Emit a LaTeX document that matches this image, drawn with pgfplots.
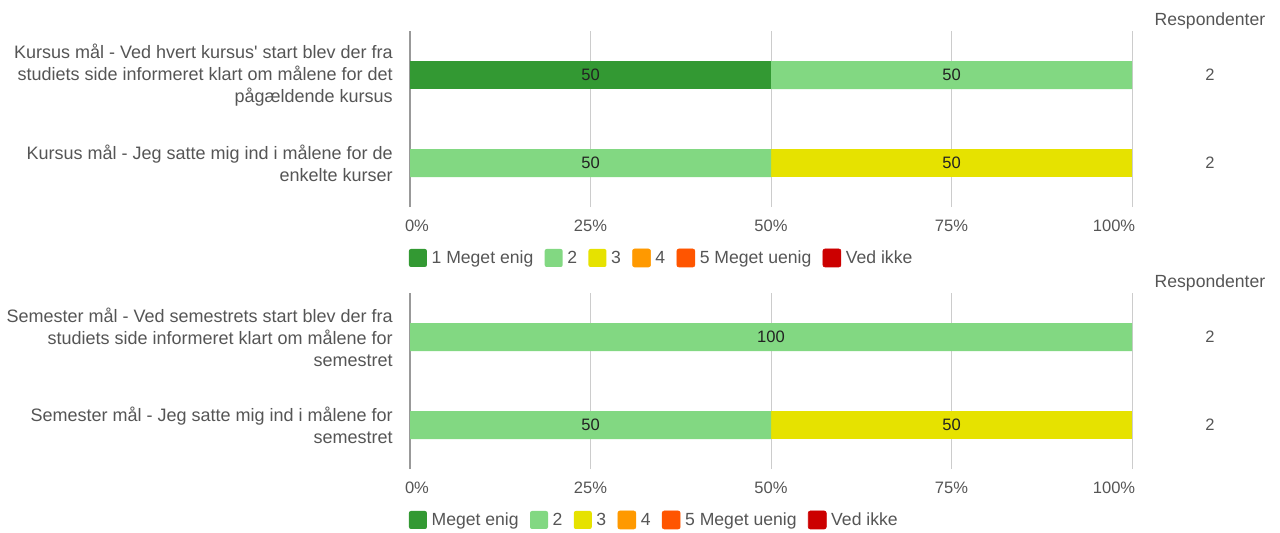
\documentclass[border=0pt]{standalone}
\usepackage{pgfplots}
\pgfplotsset{compat=1.18}
\usepackage{fontspec}
\setmainfont{Liberation Sans}[Ligatures=TeXOff]
\definecolor{c1}{HTML}{339933}
\definecolor{c2}{HTML}{82D882}
\definecolor{c3}{HTML}{E6E200}
\definecolor{c4}{HTML}{FF9900}
\definecolor{c5}{HTML}{FF5500}
\definecolor{c6}{HTML}{CC0000}
\definecolor{txt}{HTML}{555555}
\definecolor{lbl}{HTML}{222222}
\definecolor{gridc}{HTML}{CCCCCC}
\definecolor{zeroc}{HTML}{999999}
\newcommand{\ff}{\fontsize{13.2}{16.5}\selectfont}
\newcommand{\fy}{\fontsize{13.5}{16.5}\selectfont}
\newcommand{\fn}{\fontsize{12.4}{16.5}\selectfont}
\pgfplotsset{
  surv/.style={
    scale only axis, width=541.5pt, height=132pt,
    xmin=0, xmax=100, ymin=-0.5, ymax=1.5,
    stack plots=x,
    axis line style={draw=none},
    major tick length=0pt,
    xtick={0,25,50,75,100},
    xticklabels={\hspace*{10.5pt}0\%,25\%,50\%,75\%,100\%\hspace*{27pt}},
    xmajorgrids, grid style={draw=gridc, line width=0.75pt},
    extra x ticks={0}, extra x tick labels={},
    extra x tick style={grid style={draw=zeroc, line width=1pt}},
    ytick={0,1},
    xticklabel style={font=\fn, text=txt, yshift=-6pt},
    yticklabel style={font=\fy, text=txt, align=right, anchor=east, inner xsep=0pt, xshift=-12.75pt},
    clip=false,
    legend columns=-1,
    legend style={draw=none, fill=none, at={(0,0)}, anchor=north west,
      yshift=-28.5pt, xshift=-4pt, font=\ff, text=txt,
      /tikz/every even column/.append style={column sep=5pt},
      nodes={inner xsep=3.5pt}},
    legend cell align=left,
  },
  sq/.style={xbar stacked, bar width=21pt, draw=none, fill=#1,
    point meta=explicit symbolic, nodes near coords,
    every node near coord/.style={anchor=center, font=\fn, text=lbl},
    legend image code/.code={\fill[#1, rounded corners=1.5pt] (0pt,-6.75pt) rectangle (13.5pt,6.75pt);}},
  lg/.style={legend image code/.code={\fill[#1, rounded corners=1.5pt] (0pt,-6.75pt) rectangle (13.5pt,6.75pt);}},
  lab/.style={forget plot, stack plots=false, only marks, mark=*, mark size=0pt,
    mark options={draw=none, fill=none}, point meta=explicit symbolic,
    nodes near coords,
    every node near coord/.style={anchor=center, font=\fn, text=#1}},
}
\begin{document}
\begin{tikzpicture}
\path[use as bounding box] (0,0) rectangle (960pt,-399pt);
% ---------- chart 1
\begin{axis}[surv, at={(307.5pt,-155.25pt)}, anchor=south west,
  yticklabels={{Kursus mål - Jeg satte mig ind i målene for de\\enkelte kurser},
               {Kursus mål - Ved hvert kursus' start blev der fra\\studiets side informeret klart om målene for det\\pågældende kursus}}]
\addplot[sq=c1] coordinates {(50,1) [50] (0,0) []};
\addlegendentry{1 Meget enig}
\addplot[sq=c2] coordinates {(50,1) [50] (50,0) [50]};
\addlegendentry{2}
\addplot[sq=c3] coordinates {(0,1) [] (50,0) [50]};
\addlegendentry{3}
\addlegendimage{lg=c4}\addlegendentry{4}
\addlegendimage{lg=c5}\addlegendentry{5 Meget uenig}
\addlegendimage{lg=c6}\addlegendentry{Ved ikke}
\addplot[lab=txt] coordinates {(110.8,1) [2] (110.8,0) [2]};
\node[font=\ff, text=txt] at (axis cs:110.8,1.614) {Respondenter};
\end{axis}
% ---------- chart 2
\begin{axis}[surv, at={(307.5pt,-351.75pt)}, anchor=south west,
  yticklabels={{Semester mål - Jeg satte mig ind i målene for\\semestret},
               {Semester mål - Ved semestrets start blev der fra\\studiets side informeret klart om målene for\\semestret}}]
\addplot[sq=c1] coordinates {(0,1) [] (0,0) []};
\addlegendentry{Meget enig}
\addplot[sq=c2] coordinates {(100,1) [100] (50,0) [50]};
\addlegendentry{2}
\addplot[sq=c3] coordinates {(0,1) [] (50,0) [50]};
\addlegendentry{3}
\addlegendimage{lg=c4}\addlegendentry{4}
\addlegendimage{lg=c5}\addlegendentry{5 Meget uenig}
\addlegendimage{lg=c6}\addlegendentry{Ved ikke}
\addplot[lab=txt] coordinates {(110.8,1) [2] (110.8,0) [2]};
\node[font=\ff, text=txt] at (axis cs:110.8,1.614) {Respondenter};
\end{axis}
\end{tikzpicture}
\end{document}
